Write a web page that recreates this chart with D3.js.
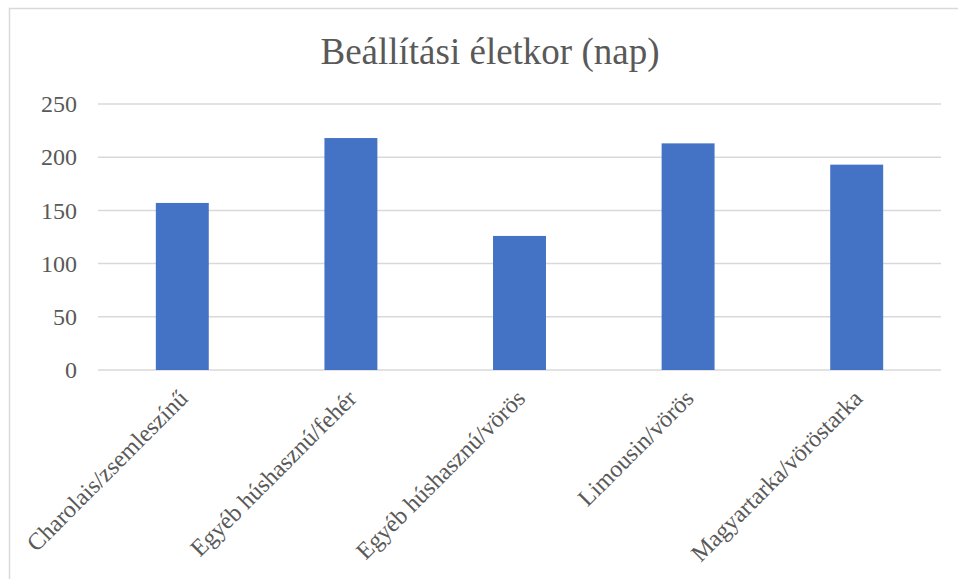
<!DOCTYPE html>
<html lang="hu">
<head>
<meta charset="UTF-8">
<title>Beállítási életkor (nap)</title>
<style>
  body { margin: 0; background: #fff; }
  text { font-family: "Liberation Serif", "Times New Roman", serif; fill: #595959; }
</style>
</head>
<body>
<div id="chart"></div>
<script src="https://d3js.org/d3.v7.min.js"></script>
<script>
// adatok
const kategoriak = ["Charolais/zsemleszínű", "Egyéb húshasznú/fehér", "Egyéb húshasznú/vörös", "Limousin/vörös", "Magyartarka/vöröstarka"];
const ertekek = [157, 218, 126, 213, 193];
const yTicks = [0, 50, 100, 150, 200, 250];
const cim = "Beállítási életkor (nap)";

const W = 958, H = 579;
const margin = { top: 104, right: 17, bottom: 209, left: 98 };
const width = W - margin.left - margin.right;
const height = H - margin.top - margin.bottom;

const svg = d3.select("#chart").append("svg")
    .attr("width", W)
    .attr("height", H);

// keret
svg.append("rect")
    .attr("x", 9.5).attr("y", 8.5)
    .attr("width", W + 10).attr("height", H + 10)
    .attr("fill", "none")
    .attr("stroke", "#d9d9d9")
    .attr("stroke-width", 1.5);

svg.append("text")
    .attr("x", 490)
    .attr("y", 64)
    .attr("text-anchor", "middle")
    .style("font-size", "37px")
    .text(cim);

const g = svg.append("g").attr("transform", `translate(${margin.left},${margin.top})`);

const x = d3.scaleBand().domain(kategoriak).range([0, width]).padding(0);
const y = d3.scaleLinear().domain([0, 250]).range([height, 0]);

// rácsvonalak
g.selectAll(".grid")
    .data(yTicks)
    .enter().append("line")
    .attr("x1", 0).attr("x2", width)
    .attr("y1", d => y(d)).attr("y2", d => y(d))
    .attr("stroke", "#d9d9d9")
    .attr("stroke-width", 1.5);

// y tengely feliratok
const yAxis = d3.axisLeft(y).tickValues(yTicks).tickSize(0).tickPadding(21);
g.append("g").call(yAxis)
    .call(s => s.select(".domain").remove())
    .selectAll("text")
    .style("font-size", "24px")
    .attr("fill", "#595959");

// oszlopok
const barW = x.bandwidth() * 0.314;
g.selectAll(".bar")
    .data(ertekek)
    .enter().append("rect")
    .attr("class", "bar")
    .attr("x", (d, i) => x(kategoriak[i]) + (x.bandwidth() - barW) / 2)
    .attr("y", d => y(d))
    .attr("width", barW)
    .attr("height", d => height - y(d))
    .attr("fill", "#4472C4");

// x tengely feliratok
const xAxis = d3.axisBottom(x).tickSize(0).tickPadding(0);
g.append("g")
    .attr("transform", `translate(0,${height})`)
    .call(xAxis)
    .call(s => s.select(".domain").remove())
    .selectAll("text")
    .style("font-size", "24px")
    .attr("fill", "#595959")
    .style("text-anchor", "end")
    .attr("dy", "0")
    .attr("transform", "translate(7,30) rotate(-45)");
</script>
</body>
</html>
